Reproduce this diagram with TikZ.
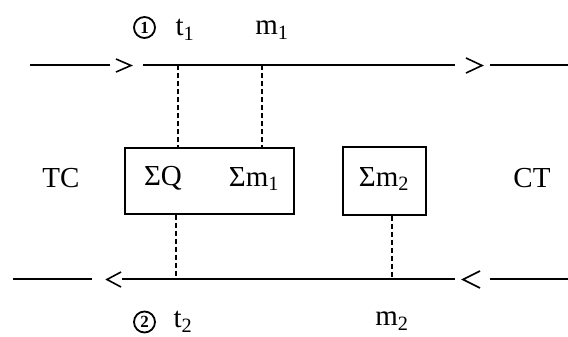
\documentclass[tikz,border=0pt]{standalone}
\usepackage{fontspec}
\setmainfont{Liberation Serif}
\begin{document}
\begin{tikzpicture}[x=1pt,y=-1pt,
  flow/.style={line width=1.5pt},
  chev/.style={line width=1.6pt},
  tie/.style={line width=1.1pt,dash pattern=on 5pt off 3pt},
  box/.style={draw,line width=1.4pt,inner sep=0pt},
  lbl/.style={font=\fontsize{29}{32}\selectfont,inner sep=0pt},
  circ/.style={draw,circle,line width=1.8pt,minimum size=21pt,inner sep=0pt,font=\bfseries\fontsize{17}{19}\selectfont}]
\useasboundingbox (0,0) rectangle (568,337);
% boxes
\node[box,minimum width=169pt,minimum height=66pt] (b1) at (209.5,181) {};
\node[box,minimum width=83pt,minimum height=68pt] (b2) at (384.5,181) {};
\node[lbl] (sq) at (163,178) {ΣQ};
\node[lbl] (sm1) at (254,179) {Σm\textsubscript{1}};
\node[lbl] (sm2) at (384,179) {Σm\textsubscript{2}};
\node[lbl] (tc) at (61,178) {TC};
\node[lbl] (ct) at (532,178) {CT};
% top line
\coordinate (a0) at (30,65);
\coordinate (a1) at (110,65);
\coordinate (a2) at (143,65);
\coordinate (a3) at (455,65);
\coordinate (a4) at (490,65);
\coordinate (a5) at (568,65);
\coordinate (p1) at (178,65);
\coordinate (p2) at (262,65);
\draw[flow] (a0) -- (a1);
\draw[flow] (a2) -- (a3);
\draw[flow] (a4) -- (a5);
\draw[chev] (116,59) -- (131,65.5) -- (116,72);
\draw[chev] (466,58) -- (482,65.5) -- (466,73);
\draw[tie] (p1) -- (p1 |- b1.north);
\draw[tie] (p2) -- (p2 |- b1.north);
% bottom line
\coordinate (c0) at (13,279);
\coordinate (c1) at (92,279);
\coordinate (c2) at (122,279);
\coordinate (c3) at (455,279);
\coordinate (c4) at (490,279);
\coordinate (c5) at (568,279);
\coordinate (q1) at (176,279);
\coordinate (q2) at (392,279);
\draw[flow] (c0) -- (c1);
\draw[flow] (c2) -- (c3);
\draw[flow] (c4) -- (c5);
\draw[chev] (121,272) -- (107,279.5) -- (121,287);
\draw[chev] (480,271) -- (463,279.5) -- (480,288);
\draw[tie] (q1 |- b1.south) -- (q1);
\draw[tie] (q2 |- b2.south) -- (q2);
% labels
\node[circ] (n1) at (144.5,27.5) {1};
\node[lbl] (t1) at (185,30) {t\textsubscript{1}};
\node[lbl] (m1) at (272,30) {m\textsubscript{1}};
\node[circ] (n2) at (144.5,322) {2};
\node[lbl] (t2) at (183,322) {t\textsubscript{2}};
\node[lbl] (m2) at (392,321) {m\textsubscript{2}};
\end{tikzpicture}
\end{document}
